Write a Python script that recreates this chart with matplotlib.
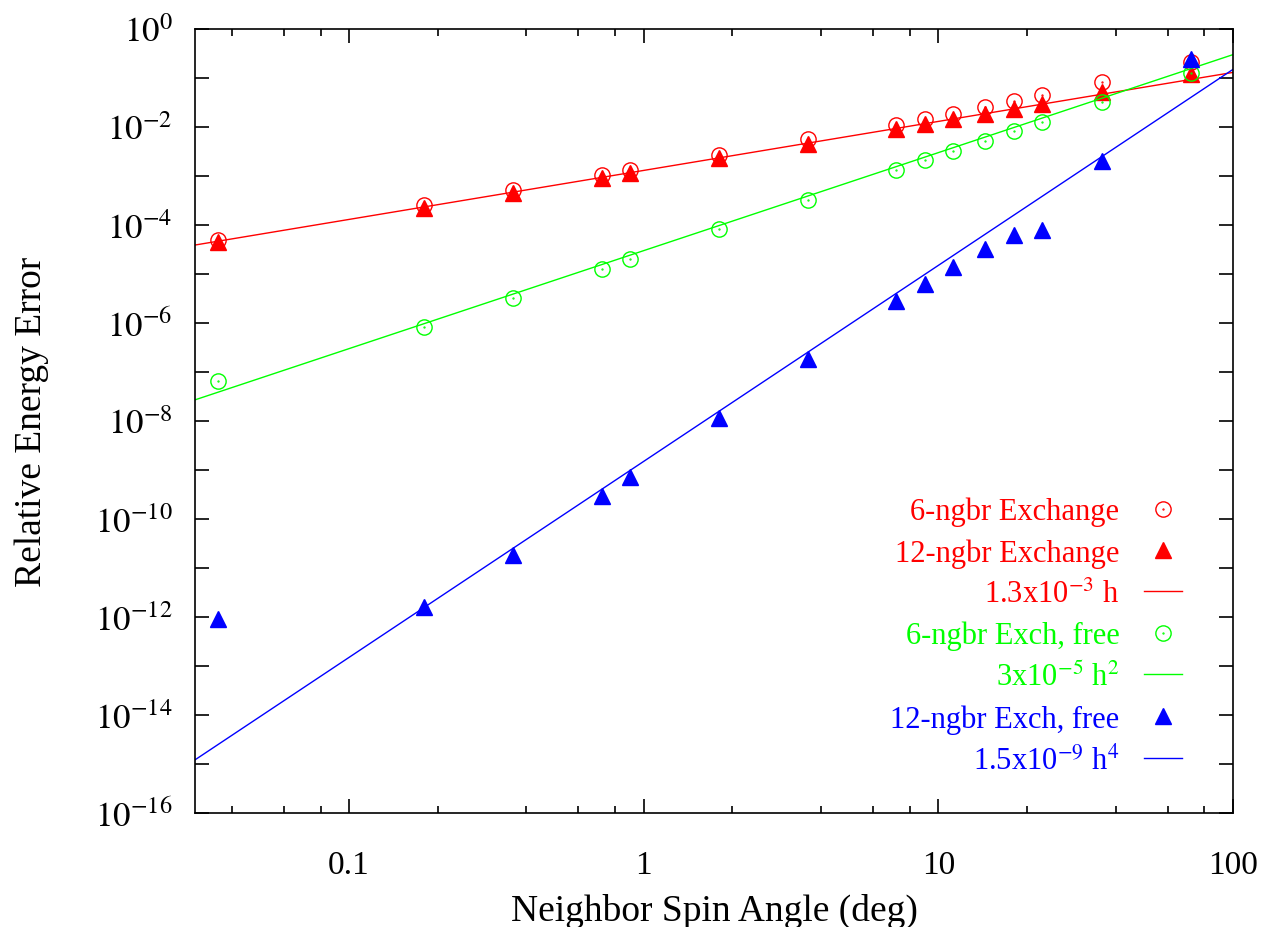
import numpy as np
import matplotlib.pyplot as plt
from matplotlib.path import Path
from matplotlib.ticker import FixedLocator, NullFormatter, FuncFormatter

plt.rcParams['font.family'] = ['Liberation Serif', 'DejaVu Serif']
plt.rcParams['mathtext.fontset'] = 'stix'

# neighbor spin angle (deg) = 360 / N
angle = [0.036, 0.18, 0.36, 0.72, 0.9, 1.8, 3.6, 7.2, 9.0, 11.25, 14.4, 18.0, 22.5, 36.0, 72.0]

err_6ngbr = [4.85e-5, 2.51e-4, 5.09e-4, 1.03e-3, 1.30e-3, 2.63e-3, 5.58e-3, 1.11e-2,
             1.48e-2, 1.87e-2, 2.56e-2, 3.33e-2, 4.42e-2, 8.3e-2, 0.212]
err_12ngbr = [4.57e-5, 2.25e-4, 4.5e-4, 9.1e-4, 1.17e-3, 2.33e-3, 4.57e-3, 9.2e-3,
              1.17e-2, 1.48e-2, 1.87e-2, 2.36e-2, 2.99e-2, 5.2e-2, 0.122]
err_6ngbr_free = [6.64e-8, 8.13e-7, 3.28e-6, 1.28e-5, 2.05e-5, 8.4e-5, 3.28e-4, 1.30e-3,
                  2.08e-3, 3.24e-3, 5.18e-3, 8.13e-3, 1.26e-2, 3.24e-2, 0.128]
err_12ngbr_free = [8.9e-13, 1.58e-12, 1.87e-11, 3.0e-10, 7.3e-10, 1.15e-8, 1.81e-7, 2.76e-6,
                   6.25e-6, 1.41e-5, 3.28e-5, 6.3e-5, 8.0e-5, 1.99e-3, 0.24]

# reference power laws c * h^p
fit_coef = [1.3e-3, 3e-5, 1.5e-9]
fit_power = [1, 2, 4]
fit_labels = [r'1.3x10$^{\mathrm{-3}}$ h', r'3x10$^{\mathrm{-5}}$ h$^{\mathrm{2}}$',
              r'1.5x10$^{\mathrm{-9}}$ h$^{\mathrm{4}}$']

x_range = np.array([0.03, 100.0])

# open circle with a dot in the middle (gnuplot point type 6)
circ_dot = Path.make_compound_path(Path.unit_circle(), Path.circle((0, 0), 0.06))

fig = plt.figure(figsize=(12.66, 9.28), dpi=100)
ax = fig.add_axes([195 / 1266, 1 - 814 / 928, (1233 - 195) / 1266, (814 - 30) / 928])

red, green, blue = '#ff0000', '#00ff00', '#0000ff'
lw = 1.0
ms_c, ms_t = 11, 12

ax.plot(angle, err_6ngbr, ls='none', marker=circ_dot, ms=ms_c, mfc='none', mec=red,
        mew=1.0, label='6-ngbr Exchange')
ax.plot(angle, err_12ngbr, ls='none', marker='^', ms=ms_t, color=red, mec=red,
        label='12-ngbr Exchange')
ax.plot(x_range, fit_coef[0] * x_range ** fit_power[0], color=red, lw=lw, label=fit_labels[0])
ax.plot(angle, err_6ngbr_free, ls='none', marker=circ_dot, ms=ms_c, mfc='none', mec=green,
        mew=1.0, label='6-ngbr Exch, free')
ax.plot(x_range, fit_coef[1] * x_range ** fit_power[1], color=green, lw=lw, label=fit_labels[1])
ax.plot(angle, err_12ngbr_free, ls='none', marker='^', ms=ms_t, color=blue, mec=blue,
        label='12-ngbr Exch, free')
ax.plot(x_range, fit_coef[2] * x_range ** fit_power[2], color=blue, lw=lw, label=fit_labels[2])

ax.set_xscale('log')
ax.set_yscale('log')
ax.set_xlim(0.03, 100)
ax.set_ylim(1e-16, 1)

ax.xaxis.set_major_locator(FixedLocator([0.1, 1, 10, 100]))
ax.xaxis.set_major_formatter(FuncFormatter(lambda v, p: '%g' % v))
minor_x = [m * 10.0 ** e for e in (-2, -1, 0, 1) for m in (2, 4, 6, 8)]
ax.xaxis.set_minor_locator(FixedLocator([v for v in minor_x if 0.03 < v < 100]))
ax.xaxis.set_minor_formatter(NullFormatter())

ax.yaxis.set_major_locator(FixedLocator([10.0 ** e for e in range(-16, 1)]))
ax.yaxis.set_major_formatter(FuncFormatter(
    lambda v, p: r'$10^{%d}$' % round(np.log10(v)) if round(np.log10(v)) % 2 == 0 else ''))
ax.yaxis.set_minor_locator(FixedLocator([]))

ax.tick_params(which='both', direction='in', top=True, right=True, width=1.2)
ax.tick_params(axis='x', which='major', length=10, pad=26, labelsize=24)
ax.tick_params(axis='x', which='minor', length=5)
ax.tick_params(axis='y', which='major', length=10, pad=16, labelsize=25)
for s in ax.spines.values():
    s.set_linewidth(1.2)

ax.set_xlabel('Neighbor Spin Angle (deg)', fontsize=27)
ax.set_ylabel('Relative Energy Error', fontsize=27)
ax.xaxis.set_label_coords(0.5, -0.102)
ax.yaxis.set_label_coords(-0.141, 0.5)

leg = ax.legend(loc='lower right', bbox_to_anchor=(1182 / 1266, 1 - 777 / 928),
                bbox_transform=fig.transFigure, frameon=False, markerfirst=False,
                fontsize=22, handlelength=1.25, handletextpad=0.8, labelspacing=0.39,
                borderpad=0, borderaxespad=0)
for txt, h in zip(leg.get_texts(), leg.legend_handles):
    c = h.get_color() if h.get_linestyle() not in ('None', 'none') else h.get_markeredgecolor()
    txt.set_color(c)

fig.savefig('out.png', dpi=100)
